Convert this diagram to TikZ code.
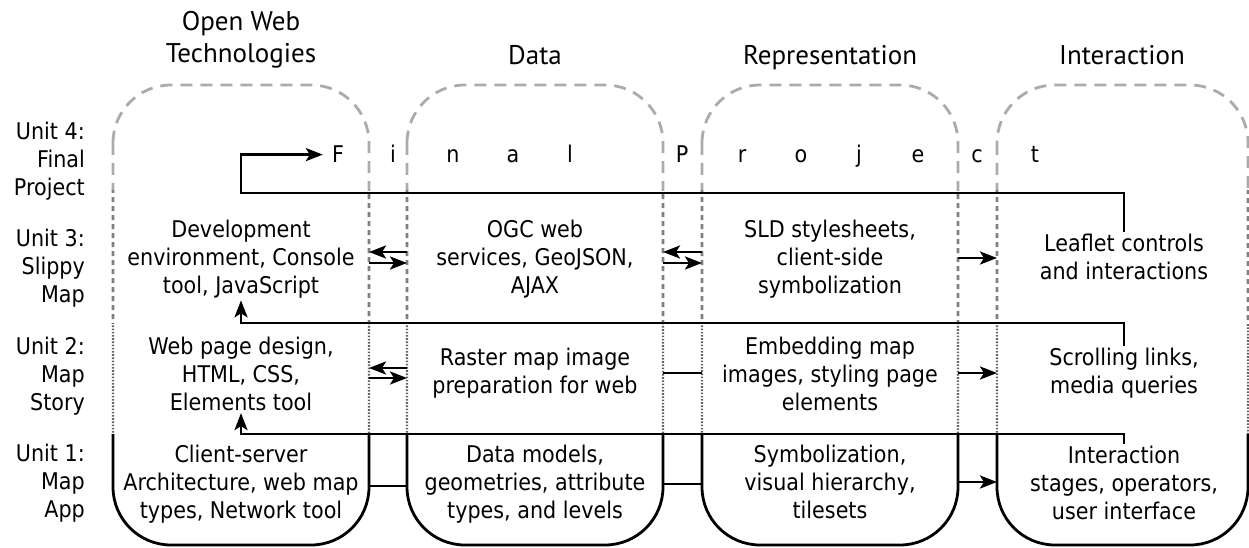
\documentclass[tikz,border=0pt]{standalone}
\usepackage{fontspec}
\setmainfont{DejaVu Sans}[FakeStretch=0.9]
\newfontfamily\hdrfont{PT Sans}
\usetikzlibrary{arrows.meta}
\begin{document}
\begin{tikzpicture}[x=1pt,y=-1pt,
  every node/.style={inner sep=2pt},
  body/.style={font=\fontsize{23}{28}\selectfont, align=center},
  lab/.style={font=\fontsize{23}{28}\selectfont, align=right, anchor=east},
  hdr/.style={font=\hdrfont\fontsize{27}{32}\selectfont, align=center},
  letter/.style={font=\fontsize{23}{28}\selectfont, anchor=base},
  conn/.style={line width=2.8pt, draw=black},
  arr/.style={conn, -{Stealth[length=17pt,width=13pt,inset=4pt]}},
  longdash/.style={line width=2.8pt, draw=black!33, dash pattern=on 12pt off 8pt},
  shortdash/.style={line width=2.6pt, draw=black!50, dash pattern=on 5pt off 4pt},
  dotline/.style={line width=2.4pt, draw=black!62, dash pattern=on 1.6pt off 1.6pt},
  solidline/.style={line width=2.8pt, draw=black},
  colshape/.style={rounded corners=58pt},
]
\useasboundingbox (0,0) rectangle (1249,548);

% column outlines, styled per row band
\begin{scope}
  \clip (0,0) rectangle (1249,190);
  \foreach \xa/\xb in {113/369,407/663,702/958,997/1248}
    \draw[longdash,colshape] (\xa,85) rectangle (\xb,545);
\end{scope}
\begin{scope}
  \clip (0,190) rectangle (1249,323);
  \foreach \xa/\xb in {113/369,407/663,702/958,997/1248}
    \draw[shortdash,colshape] (\xa,85) rectangle (\xb,545);
\end{scope}
\begin{scope}
  \clip (0,323) rectangle (1249,434);
  \foreach \xa/\xb in {113/369,407/663,702/958,997/1248}
    \draw[dotline,colshape] (\xa,85) rectangle (\xb,545);
\end{scope}
\begin{scope}
  \clip (0,434) rectangle (1249,548);
  \foreach \xa/\xb in {113/369,407/663,702/958,997/1248}
    \draw[solidline,colshape] (\xa,85) rectangle (\xb,545);
\end{scope}

% headers
\node[hdr] (h1) at (241,40) {Open Web\\Technologies};
\node[hdr,anchor=base] (h2) at (535,65) {Data};
\node[hdr,anchor=base] (h3) at (830,65) {Representation};
\node[hdr,anchor=base] (h4) at (1122,65) {Interaction};

% row labels
\node[lab] (u4) at (87,161) {Unit 4:\\Final\\Project};
\node[lab] (u3) at (87,268) {Unit 3:\\Slippy\\Map};
\node[lab] (u2) at (87,376) {Unit 2:\\Map\\Story};
\node[lab] (u1) at (87,483) {Unit 1:\\Map\\App};

% Final Project letters
\node[letter] (F)  at (338,163) {F};
\node[letter] (fi) at (393,163) {i};
\node[letter] (fn) at (453,163) {n};
\node[letter] (fa) at (513,163) {a};
\node[letter] (fl) at (570,163) {l};
\node[letter] (fP) at (682,163) {P};
\node[letter] (fr) at (742,163) {r};
\node[letter] (fo) at (801,163) {o};
\node[letter] (fj) at (859,163) {j};
\node[letter] (fe) at (918,163) {e};
\node[letter] (fc) at (977,163) {c};
\node[letter] (ft) at (1035,163) {t};

% Unit 3
\node[body] (r3c1) at (241,259) {Development\\environment, Console\\tool, JavaScript};
\node[body] (r3c2) at (535,259) {OGC web\\services, GeoJSON,\\AJAX};
\node[body] (r3c3) at (830,259) {SLD stylesheets,\\client-side\\symbolization};
\node[body] (r3c4) at (1124,257) {Leaflet controls\\and interactions};
% Unit 2
\node[body] (r2c1) at (241,374) {Web page design,\\HTML, CSS,\\Elements tool};
\node[body] (r2c2) at (535,373) {Raster map image\\preparation for web};
\node[body] (r2c3) at (830,374) {Embedding map\\images, styling page\\elements};
\node[body] (r2c4) at (1124,373) {Scrolling links,\\media queries};
% Unit 1
\node[body] (r1c1) at (241,484) {Client-server\\Architecture, web map\\types, Network tool};
\node[body] (r1c2) at (535,484) {Data models,\\geometries, attribute\\types, and levels};
\node[body] (r1c3) at (830,482) {Symbolization,\\visual hierarchy,\\tilesets};
\node[body] (r1c4) at (1124,483) {Interaction\\stages, operators,\\user interface};

% bend points of the long connectors
\coordinate (k4) at (241,193);
\coordinate (k3) at (241,323);
\coordinate (k2) at (241,434);

\draw[arr, shorten >=7pt] (r3c4.north) |- (k4) |- (F.west);
\draw[arr] (r2c4.north) |- (k3) -- (r3c1.south);
\draw[arr] (r1c4.north) |- (k2) -- (r2c1.south);

% gap connectors: Unit 3
\coordinate (a1l) at (369,252); \coordinate (a1r) at (407,252);
\coordinate (b1l) at (369,263); \coordinate (b1r) at (407,263);
\coordinate (a2l) at (663,252); \coordinate (a2r) at (702,252);
\coordinate (b2l) at (663,263); \coordinate (b2r) at (702,263);
\coordinate (c3l) at (958,258); \coordinate (c3r) at (997,258);
\draw[arr] (a1r) -- (a1l);
\draw[arr] (b1l) -- (b1r);
\draw[arr] (a2r) -- (a2l);
\draw[arr] (b2l) -- (b2r);
\draw[arr] (c3l) -- (c3r);
% Unit 2
\coordinate (d1l) at (369,368); \coordinate (d1r) at (407,368);
\coordinate (e1l) at (369,378); \coordinate (e1r) at (407,378);
\coordinate (d2l) at (663,373); \coordinate (d2r) at (702,373);
\coordinate (d3l) at (958,373); \coordinate (d3r) at (997,373);
\draw[arr] (d1r) -- (d1l);
\draw[arr] (e1l) -- (e1r);
\draw[conn] (d2l) -- (d2r);
\draw[arr] (d3l) -- (d3r);
% Unit 1
\coordinate (g1l) at (369,486); \coordinate (g1r) at (407,486);
\coordinate (g2l) at (663,484); \coordinate (g2r) at (702,484);
\coordinate (g3l) at (958,482); \coordinate (g3r) at (997,482);
\draw[conn] (g1l) -- (g1r);
\draw[conn] (g2l) -- (g2r);
\draw[arr] (g3l) -- (g3r);
\end{tikzpicture}
\end{document}
